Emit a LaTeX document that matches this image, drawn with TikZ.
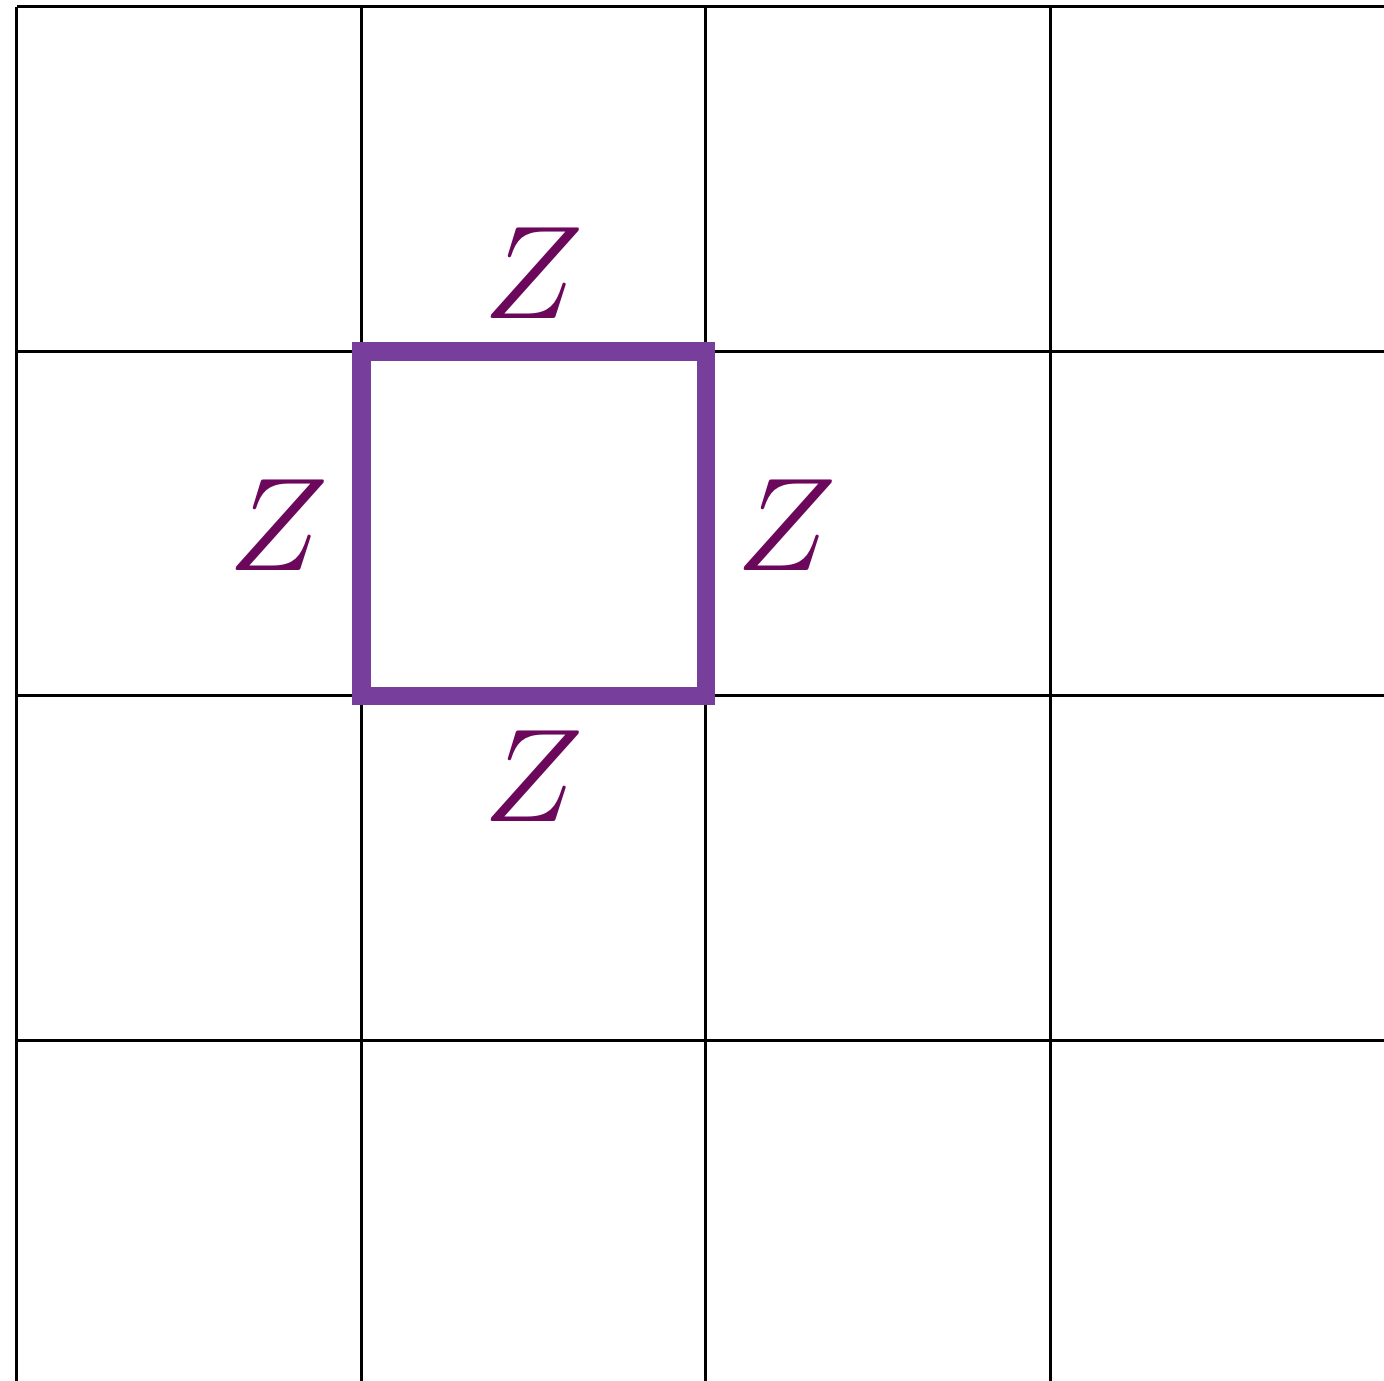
\documentclass[tikz,border=0pt]{standalone}
\definecolor{sqpurple}{RGB}{120,62,155}
\definecolor{zpurple}{RGB}{108,8,92}
\begin{document}
\begin{tikzpicture}[x=1cm,y=1cm,
  gridline/.style={line width=0.25pt,black},
  loopline/.style={line width=1.5pt,sqpurple,line join=miter,line cap=rect},
  zlabel/.style={inner sep=0pt,text=zpurple,font=\fontsize{10.9}{13}\selectfont}]
\useasboundingbox (-0.0493,0.0203) rectangle (3.9681,-3.9884);
\clip (-0.0493,0.0203) rectangle (3.9681,-3.9884);
\foreach \i in {0,1,2,3} {
  \draw[gridline] (\i,0) -- (\i,-4.2);
  \draw[gridline] (0,-\i) -- (4.2,-\i);
}
\draw[loopline] (1,-1) rectangle (2,-2);
\node[zlabel] (ztop) at (1.50,-0.772) {$Z$};
\node[zlabel] (zleft) at (0.758,-1.505) {$Z$};
\node[zlabel] (zright) at (2.233,-1.505) {$Z$};
\node[zlabel] (zbot) at (1.50,-2.232) {$Z$};
\end{tikzpicture}
\end{document}
